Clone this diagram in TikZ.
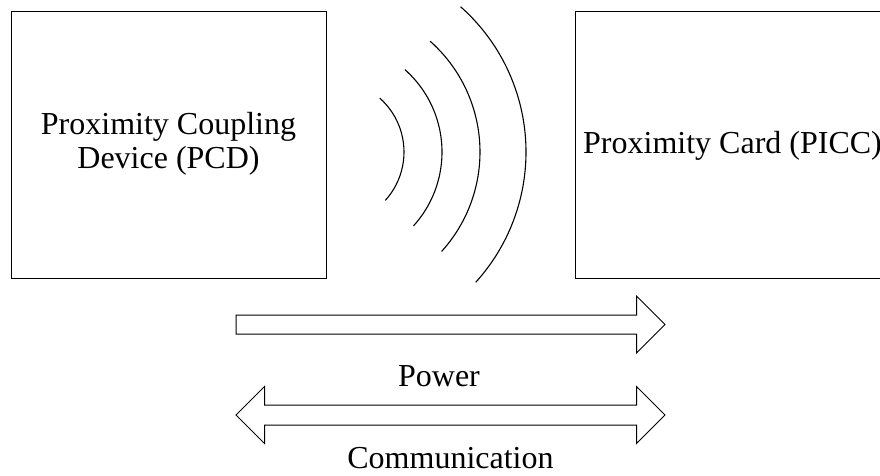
\documentclass[tikz,border=0pt]{standalone}
\usepackage{fontspec}
\setmainfont{Liberation Serif}
\begin{document}
\begin{tikzpicture}[x=1pt, y=-1pt, line width=1pt,
  unit/.style={draw, minimum width=315pt, minimum height=267pt, inner sep=0pt},
  unitlabel/.style={anchor=base, align=center, inner sep=0pt,
    font=\fontsize{32}{34}\selectfont},
  blockarrow/.style={draw, line join=miter},
  caption/.style={anchor=base, inner sep=0pt, font=\fontsize{32}{34}\selectfont},
  wave/.style={line width=1.1pt}]
\clip (0,0) rectangle (880,475);

% reader and card
\node[unit] (pcd)  at (168.5,144.5) {};
\node[unit] (picc) at (732.5,144.5) {};
% base anchor of a two-line label sits on its last line
\node[unitlabel] (pcdtext)  at (168.5,168.3) {Proximity Coupling\\Device (PCD)};
\node[unitlabel] (picctext) at (732.5,153.3) {Proximity Card (PICC)};

% radiated field: concentric arcs around the reader antenna
\coordinate (src) at (332,152);
\foreach \r in {72,110,148,194}
  \draw[wave] ([shift={(-48.5:\r)}]src) arc[start angle=-48.5, end angle=42.2, radius=\r];

% power: one-way block arrow
\draw[blockarrow] (236,315) -- (636.5,315) -- (636.5,296) -- (665,324.5)
  -- (636.5,353) -- (636.5,334) -- (236,334) -- cycle;
\node[caption] (power) at (439,386.7) {Power};

% communication: two-way block arrow
\draw[blockarrow] (236,415) -- (264.5,386.5) -- (264.5,405) -- (636.5,405)
  -- (636.5,386.5) -- (665,415) -- (636.5,443.5) -- (636.5,425)
  -- (264.5,425) -- (264.5,443.5) -- cycle;
\node[caption] (comm) at (450.5,468) {Communication};
\end{tikzpicture}
\end{document}
